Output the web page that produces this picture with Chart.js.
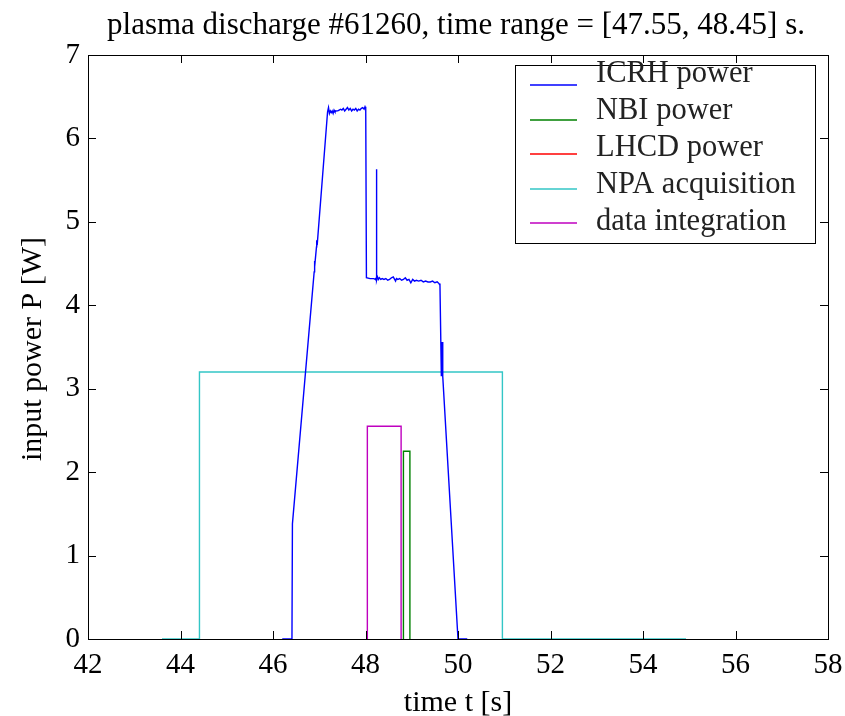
<!DOCTYPE html>
<html>
<head>
<meta charset="utf-8">
<script src="https://cdn.jsdelivr.net/npm/chart.js@4.4.0/dist/chart.umd.min.js"></script>
<style>
  html, body { margin: 0; padding: 0; background: #fff; }
  #wrap { width: 845px; height: 716px; }
</style>
</head>
<body>
<div id="wrap"><canvas id="chart"></canvas></div>
<script>
const titleText = 'plasma discharge #61260, time range = [47.55, 48.45] s.';
const xLabel = 'time t [s]';
const yLabel = 'input power P [W]';
const xTicks = [42, 44, 46, 48, 50, 52, 54, 56, 58];
const yTicks = [0, 1, 2, 3, 4, 5, 6, 7];

// ICRH power trace
const icrhT = [46.2, 46.41, 46.42, 46.89, 46.895, 46.905, 46.94, 46.945, 46.955, 47.18,
  47.2, 47.22, 47.24, 47.26, 47.28, 47.3, 47.32, 47.34, 47.37, 47.4, 47.43, 47.46, 47.49,
  47.52, 47.55, 47.58, 47.61, 47.64, 47.67, 47.7, 47.73, 47.76, 47.79, 47.82, 47.85, 47.88,
  47.91, 47.94, 47.97, 47.99, 48.005, 48.02, 48.1, 48.18, 48.21, 48.22, 48.23, 48.235, 48.245,
  48.26, 48.28, 48.3, 48.33, 48.36, 48.4, 48.44, 48.48, 48.52, 48.56, 48.6, 48.63, 48.65,
  48.67, 48.7, 48.74, 48.78, 48.82, 48.86, 48.9, 48.94, 48.98, 49.02, 49.06, 49.1, 49.15,
  49.2, 49.25, 49.3, 49.35, 49.4, 49.45, 49.5, 49.55, 49.59, 49.61, 49.64, 49.655, 49.67,
  50.0, 50.2];
const icrhP = [0, 0, 1.38, 4.4, 4.53, 4.46, 4.7, 4.78, 4.72, 6.32,
  6.37, 6.3, 6.33, 6.31, 6.33, 6.3, 6.34, 6.32, 6.33, 6.33, 6.34, 6.35, 6.34,
  6.36, 6.33, 6.35, 6.37, 6.34, 6.36, 6.33, 6.35, 6.34, 6.36, 6.33, 6.35, 6.34,
  6.36, 6.37, 6.35, 6.38, 6.36, 4.33, 4.32, 4.32, 4.31, 4.33, 4.3, 5.63, 4.3,
  4.34, 4.31, 4.33, 4.31, 4.32, 4.31, 4.32, 4.3, 4.31, 4.33, 4.34, 4.31, 4.29,
  4.32, 4.31, 4.32, 4.3, 4.31, 4.33, 4.3, 4.31, 4.27, 4.31, 4.29, 4.3, 4.29,
  4.3, 4.28, 4.29, 4.28, 4.28, 4.29, 4.27, 4.28, 4.26, 4.24, 3.15, 3.56, 3.15,
  0, 0];

// NBI power
const nbiT = [48.82, 48.82, 48.96, 48.96];
const nbiP = [0, 2.25, 2.25, 0];

// LHCD power (not present in this discharge)
const lhcdT = [];
const lhcdP = [];

// NPA acquisition window
const npaT = [43.6, 44.41, 44.41, 50.96, 50.96, 54.93];
const npaP = [0, 0, 3.2, 3.2, 0, 0];

// data integration window
const integT = [48.04, 48.04, 48.77, 48.77];
const integP = [0, 2.55, 2.55, 0];

const serif = '"Liberation Serif", "Times New Roman", serif';

function pts(ts, ps) {
  return ts.map((t, i) => ({ x: t, y: ps[i] }));
}

const framePlugin = {
  id: 'frame',
  afterDraw(chart) {
    const { ctx, chartArea: a, scales } = chart;
    const xs = scales.x, ys = scales.y;
    ctx.save();
    ctx.strokeStyle = '#000';
    ctx.lineWidth = 1;
    ctx.strokeRect(a.left + 0.5, a.top + 0.5, a.right - a.left, a.bottom - a.top);
    const tl = 8;
    ctx.beginPath();
    xTicks.forEach(v => {
      const px = Math.round(xs.getPixelForValue(v)) + 0.5;
      ctx.moveTo(px, a.bottom); ctx.lineTo(px, a.bottom - tl);
      ctx.moveTo(px, a.top); ctx.lineTo(px, a.top + tl);
    });
    yTicks.forEach(v => {
      const py = Math.round(ys.getPixelForValue(v)) + 0.5;
      ctx.moveTo(a.left, py); ctx.lineTo(a.left + tl, py);
      ctx.moveTo(a.right, py); ctx.lineTo(a.right - tl, py);
    });
    ctx.stroke();

    // title and axis labels
    ctx.fillStyle = '#000';
    ctx.textAlign = 'center';
    ctx.textBaseline = 'alphabetic';
    ctx.font = '31px ' + serif;
    ctx.fillText(titleText, 456, 34);
    ctx.font = '30px ' + serif;
    ctx.fillText(xLabel, (a.left + a.right) / 2, 711);
    ctx.save();
    ctx.translate(41, 349);
    ctx.rotate(-Math.PI / 2);
    ctx.fillText(yLabel, 0, 0);
    ctx.restore();

    // legend
    const lx = 515, ly = 65, lw = 300, lh = 178;
    ctx.fillStyle = '#fff';
    ctx.fillRect(lx, ly, lw, lh);
    ctx.strokeRect(lx + 0.5, ly + 0.5, lw, lh);
    ctx.textAlign = 'left';
    ctx.font = '30.5px ' + serif;
    ctx.lineWidth = 1.6;
    chart.data.datasets.forEach((ds, i) => {
      const yy = Math.round(85 + i * 34.6);
      ctx.strokeStyle = ds.borderColor;
      ctx.beginPath();
      ctx.moveTo(530, yy);
      ctx.lineTo(577, yy);
      ctx.stroke();
      ctx.fillStyle = '#222';
      ctx.fillText(ds.label, 596, 82 + i * 37);
    });
    ctx.restore();
  }
};

const line = (label, color, ts, ps) => ({
  label: label,
  data: pts(ts, ps),
  borderColor: color,
  backgroundColor: color,
  borderWidth: 1.4,
  pointRadius: 0,
  tension: 0,
  fill: false
});

new Chart(document.getElementById('chart'), {
  type: 'line',
  data: {
    datasets: [
      line('ICRH power', '#0000ff', icrhT, icrhP),
      line('NBI power', '#008000', nbiT, nbiP),
      line('LHCD power', '#ff0000', lhcdT, lhcdP),
      line('NPA acquisition', '#33c6c6', npaT, npaP),
      line('data integration', '#bf00bf', integT, integP)
    ]
  },
  options: {
    responsive: true,
    maintainAspectRatio: false,
    animation: false,
    layout: { padding: { top: 55, right: 17, left: 0, bottom: 0 } },
    plugins: {
      legend: { display: false },
      tooltip: { enabled: false },
      title: { display: false }
    },
    scales: {
      x: {
        type: 'linear',
        min: 42,
        max: 58,
        afterBuildTicks: s => { s.ticks = xTicks.map(v => ({ value: v })); },
        afterFit: s => { s.height = 77; },
        grid: { display: false },
        border: { display: false },
        ticks: { color: '#000', padding: 1, maxRotation: 0, font: { family: serif, size: 29 } }
      },
      y: {
        min: 0,
        max: 7,
        afterBuildTicks: s => { s.ticks = yTicks.map(v => ({ value: v })); },
        afterFit: s => { s.width = 88; },
        grid: { display: false },
        border: { display: false },
        ticks: { color: '#000', padding: 0, font: { family: serif, size: 29 } }
      }
    }
  },
  plugins: [framePlugin]
});
</script>
</body>
</html>
